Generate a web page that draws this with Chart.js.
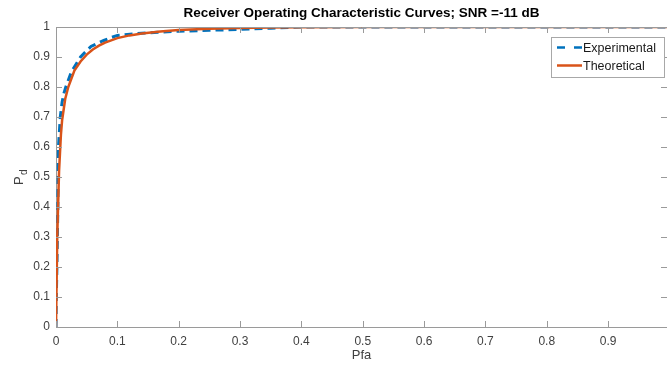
<!DOCTYPE html>
<html>
<head>
<meta charset="utf-8">
<script src="https://cdn.jsdelivr.net/npm/chart.js@4/dist/chart.umd.min.js"></script>
<style>
    html, body { margin: 0; padding: 0; background: #fff; }
</style>
</head>
<body>
<canvas id="rocChart" width="667" height="365"></canvas>
<script>
// Experimental ROC (dashed)
const expPfa = [0, 0.0005, 0.0015, 0.003, 0.004, 0.007, 0.01, 0.013, 0.016, 0.025, 0.04, 0.047, 0.057, 0.067, 0.078, 0.09, 0.1, 0.13, 0.16, 0.2, 0.25, 0.3, 0.35, 0.4, 0.996];
const expPd = [0, 0.1, 0.2, 0.4, 0.6, 0.7, 0.75, 0.78, 0.8, 0.85, 0.9, 0.915, 0.935, 0.945, 0.955, 0.965, 0.972, 0.978, 0.982, 0.986, 0.989, 0.992, 0.996, 1, 1];

// Theoretical ROC (solid)
const theoPfa = [0, 0.002, 0.005, 0.008, 0.01, 0.015, 0.02, 0.03, 0.04, 0.05, 0.06, 0.07, 0.08, 0.1, 0.12, 0.14, 0.17, 0.2, 0.25, 0.3, 0.35, 0.4, 0.5, 0.996];
const theoPd = [0, 0.3, 0.52, 0.64, 0.69, 0.76, 0.8, 0.855, 0.885, 0.908, 0.925, 0.938, 0.948, 0.963, 0.972, 0.978, 0.985, 0.99, 0.994, 0.997, 0.998, 0.999, 1, 1];

const xTicks = [0, 0.1, 0.2, 0.3, 0.4, 0.5, 0.6, 0.7, 0.8, 0.9];
const yTicks = [0, 0.1, 0.2, 0.3, 0.4, 0.5, 0.6, 0.7, 0.8, 0.9, 1];
const seriesNames = ['Experimental', 'Theoretical'];

const FONT = '"Liberation Sans", Arial, Helvetica, sans-serif';
const BLUE = '#0072BD';
const ORANGE = '#D95319';
const AXIS = '#9a9a9a';
const TEXT = '#404040';

const toPoints = (xs, ys) => xs.map((x, i) => ({ x: x, y: ys[i] }));

// MATLAB style box: inward ticks, top border, y label with subscript, legend
const matlabAxes = {
    id: 'matlabAxes',
    afterDraw(chart) {
        const ctx = chart.ctx;
        const a = chart.chartArea;
        const xs = chart.scales.x;
        const ys = chart.scales.y;
        const len = 6;
        ctx.save();
        ctx.strokeStyle = AXIS;
        ctx.lineWidth = 1;
        ctx.beginPath();
        ctx.moveTo(a.left, a.top + 0.5);
        ctx.lineTo(a.right, a.top + 0.5);
        xTicks.forEach(v => {
            const px = Math.round(xs.getPixelForValue(v)) + 0.5;
            ctx.moveTo(px, a.bottom);
            ctx.lineTo(px, a.bottom - len);
            ctx.moveTo(px, a.top);
            ctx.lineTo(px, a.top + len);
        });
        yTicks.forEach(v => {
            const py = Math.round(ys.getPixelForValue(v)) + 0.5;
            ctx.moveTo(a.left, py);
            ctx.lineTo(a.left + len, py);
            ctx.moveTo(a.right, py);
            ctx.lineTo(a.right - len, py);
        });
        ctx.stroke();

        // y axis title P_d
        ctx.fillStyle = TEXT;
        ctx.translate(23, 180);
        ctx.rotate(-Math.PI / 2);
        ctx.textBaseline = 'alphabetic';
        ctx.textAlign = 'left';
        ctx.font = '13px ' + FONT;
        ctx.fillText('P', -5, 0);
        ctx.font = '10px ' + FONT;
        ctx.fillText('d', 5, 4);
        ctx.setTransform(1, 0, 0, 1, 0, 0);

        // legend
        const bx = 551.5, by = 37.5, bw = 113, bh = 40;
        ctx.fillStyle = '#fff';
        ctx.fillRect(bx, by, bw, bh);
        ctx.strokeStyle = '#a8a8a8';
        ctx.strokeRect(bx, by, bw, bh);
        const rows = [by + 10, by + 28];
        ctx.lineWidth = 2.5;
        ctx.strokeStyle = BLUE;
        ctx.setLineDash([8, 9]);
        ctx.beginPath();
        ctx.moveTo(557, rows[0]);
        ctx.lineTo(582, rows[0]);
        ctx.stroke();
        ctx.setLineDash([]);
        ctx.strokeStyle = ORANGE;
        ctx.beginPath();
        ctx.moveTo(557, rows[1]);
        ctx.lineTo(582, rows[1]);
        ctx.stroke();
        ctx.fillStyle = '#1a1a1a';
        ctx.font = '12.5px ' + FONT;
        ctx.textBaseline = 'middle';
        ctx.fillText(seriesNames[0], 583, rows[0] + 1);
        ctx.fillText(seriesNames[1], 583, rows[1] + 1);
        ctx.restore();
    }
};

new Chart(document.getElementById('rocChart').getContext('2d'), {
    type: 'line',
    data: {
        datasets: [{
            label: seriesNames[0],
            data: toPoints(expPfa, expPd),
            borderColor: BLUE,
            borderWidth: 3,
            borderDash: [8, 5],
            pointRadius: 0,
            tension: 0,
            order: 1
        }, {
            label: seriesNames[1],
            data: toPoints(theoPfa, theoPd),
            borderColor: ORANGE,
            borderWidth: 2.5,
            pointRadius: 0,
            tension: 0,
            order: 0
        }]
    },
    options: {
        responsive: false,
        animation: false,
        layout: { padding: { left: 0, right: 0, top: 0, bottom: 0 } },
        plugins: {
            legend: { display: false },
            tooltip: { enabled: false },
            title: {
                display: true,
                fullSize: false,
                text: 'Receiver Operating Characteristic Curves; SNR =-11 dB',
                color: '#000',
                font: { family: FONT, size: 13.5, weight: 'bold' },
                padding: { top: 5, bottom: 5.8 }
            }
        },
        scales: {
            x: {
                type: 'linear',
                min: 0,
                max: 0.996,
                afterBuildTicks: s => { s.ticks = xTicks.map(v => ({ value: v })); },
                afterFit: s => { s.height = 38; },
                grid: { display: false, drawTicks: false },
                border: { color: AXIS, width: 1 },
                ticks: {
                    padding: 7,
                    color: TEXT,
                    maxRotation: 0,
                    font: { family: FONT, size: 12 },
                    callback: v => String(v)
                },
                title: {
                    display: true,
                    text: 'Pfa',
                    color: TEXT,
                    font: { family: FONT, size: 13 },
                    padding: { top: 0, bottom: 1.5 }
                }
            },
            y: {
                type: 'linear',
                min: 0,
                max: 1,
                afterBuildTicks: s => { s.ticks = yTicks.map(v => ({ value: v })); },
                afterFit: s => { s.width = 56; },
                grid: { display: false, drawTicks: false },
                border: { color: AXIS, width: 1 },
                ticks: {
                    padding: 6,
                    color: TEXT,
                    font: { family: FONT, size: 12 },
                    callback: v => String(v)
                }
            }
        }
    },
    plugins: [matlabAxes]
});
</script>
</body>
</html>
